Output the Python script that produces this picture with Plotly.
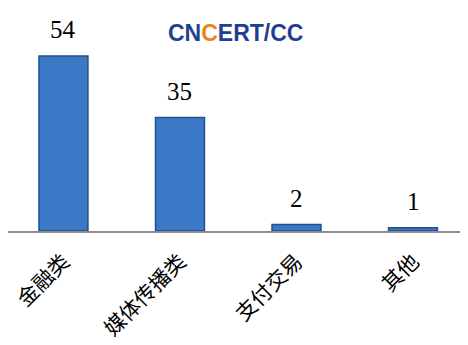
import plotly.graph_objects as go

categories = ["金融类", "媒体传播类", "支付交易", "其他"]
values = [54, 35, 2, 1]

fig = go.Figure()
fig.add_trace(go.Bar(
    x=categories, y=values,
    width=0.42,
    marker=dict(color="#3b78c6", line=dict(color="#1e4f8e", width=1.5)),
    cliponaxis=False,
))

label_annotations = [
    dict(x=c, y=v, xref="x", yref="y", text=str(v), showarrow=False,
         xanchor="center", yanchor="bottom", yshift=11,
         font=dict(family="Liberation Serif, Times New Roman, serif", size=25, color="black"))
    for c, v in zip(categories, values)
]

logo = dict(
    xref="paper", yref="paper", x=0.5, y=1.0,
    xanchor="center", yanchor="middle",
    text="<b>CN<span style='color:#e8841a'>C</span>ERT/CC</b>",
    showarrow=False,
    font=dict(family="Liberation Sans, Arial, sans-serif", size=23, color="#1f3f8f"),
    yshift=-13, xshift=-3,
)

# page body has an 8px margin; figure sized to fit the remaining viewport
fig.update_layout(
    width=460, height=337,
    margin=dict(l=0, r=0, t=12, b=114, autoexpand=False),
    paper_bgcolor="white", plot_bgcolor="white",
    showlegend=False,
    xaxis=dict(
        type="category", range=[-0.476, 3.472],
        showline=True, linecolor="#8c8c8c", linewidth=2,
        ticks="", tickangle=-45, automargin=False,
        ticklabelstandoff=8,
        tickfont=dict(family="Noto Sans CJK SC, serif", size=21, color="black"),
        showgrid=False,
    ),
    yaxis=dict(range=[0, 65.1], visible=False, showgrid=False, automargin=False),
    annotations=label_annotations + [logo],
)

fig.write_html("out.html")
